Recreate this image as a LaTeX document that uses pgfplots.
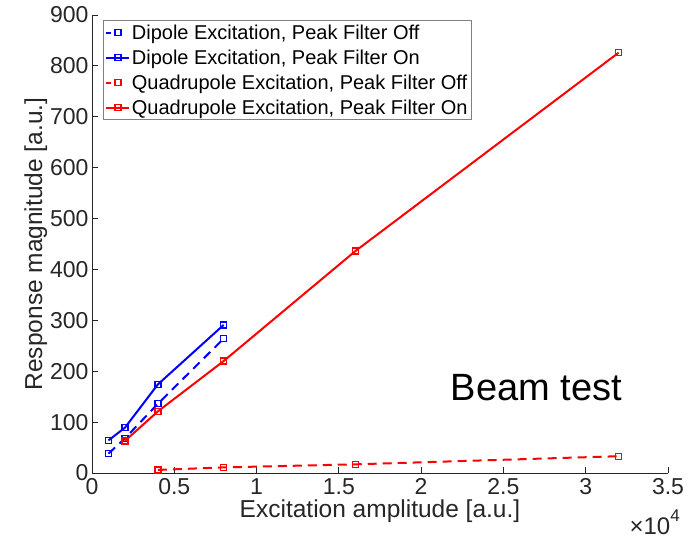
\documentclass[border=0pt]{standalone}
\usepackage{pgfplots}
\pgfplotsset{compat=1.18}
\usepackage{fontspec}
\setmainfont{Liberation Sans}
\definecolor{axgray}{RGB}{38,38,38}
\tikzset{
  mk/.style={mark=square, mark size=3pt, mark options={solid, draw=#1, fill=none, line width=1.4pt}},
  doff/.style={blue, line width=2pt, dash pattern=on 9pt off 6pt, mk=blue},
  don/.style={blue, line width=2pt, solid, mk=blue},
  qoff/.style={red, line width=2pt, dash pattern=on 9pt off 6pt, mk=red},
  qon/.style={red, line width=2pt, solid, mk=red},
}
\begin{document}
\begin{tikzpicture}
\begin{axis}[
  scale only axis,
  width=576pt, height=458pt,
  xmin=0, xmax=35000, ymin=0, ymax=900,
  axis lines*=left,
  axis line style={axgray, line width=0.8pt},
  tick style={axgray, line width=0.8pt},
  tick align=inside,
  major tick length=6pt,
  xtick={0,5000,10000,15000,20000,25000,30000,35000},
  xticklabels={0,0.5,1,1.5,2,2.5,3,3.5},
  scaled x ticks=false,
  ytick={0,100,...,900},
  /pgf/number format/assume math mode=true,
  ticklabel style={font=\fontsize{23}{23}\selectfont, text=axgray},
  xticklabel style={yshift=-2pt},
  xlabel={Excitation amplitude [a.u.]},
  ylabel={Response magnitude [a.u.]},
  label style={font=\fontsize{24.5}{24.5}\selectfont, text=axgray},
  xlabel style={yshift=2pt},
  ylabel style={yshift=-4pt},
  legend style={at={(rel axis cs:0.019,0.988)}, anchor=north west,
    font=\fontsize{20}{22}\selectfont, draw=gray,
    inner sep=2pt, row sep=5pt, cells={anchor=west}},
  legend image code/.code={
    \draw[#1, line width=2pt, dash phase=0pt] (0cm,0cm) -- (0.8cm,0cm);
    \draw[#1, mark repeat=1] plot coordinates {(0.42cm,0cm)};},
  legend cell align=left,
]
\addlegendimage{doff, dash pattern=on 5pt off 20pt}
\addlegendentry{Dipole Excitation, Peak Filter Off}
\addlegendimage{don}
\addlegendentry{Dipole Excitation, Peak Filter On}
\addlegendimage{qoff, dash pattern=on 5pt off 20pt}
\addlegendentry{Quadrupole Excitation, Peak Filter Off}
\addlegendimage{qon}
\addlegendentry{Quadrupole Excitation, Peak Filter On}
\addplot[doff, forget plot]
  coordinates {(1000,38) (2000,68) (4000,136) (8000,264)};
\addplot[don, forget plot]
  coordinates {(1000,64) (2000,89) (4000,174) (8000,291)};
\addplot[qoff, forget plot]
  coordinates {(4000,6) (8000,11) (16000,17) (32000,33)};
\addplot[qon, forget plot]
  coordinates {(2000,63) (4000,121) (8000,220) (16000,436) (32000,826)};
\node[font=\fontsize{38}{38}\selectfont, text=black] at (axis cs:27000,168) {Beam test};
\end{axis}
\node[font=\fontsize{24}{24}\selectfont, text=axgray, anchor=north east, inner sep=1pt] at ([shift={(13pt,-36pt)}]current axis.south east) {×10\raisebox{1.0ex}{\fontsize{17}{17}\selectfont 4}};
\path (current axis.south west) ++(-92pt,-67pt) coordinate (bbl);
\path (current axis.north east) ++(28pt,15pt) coordinate (bbr);
\useasboundingbox (bbl) rectangle (bbr);
\end{tikzpicture}
\end{document}
